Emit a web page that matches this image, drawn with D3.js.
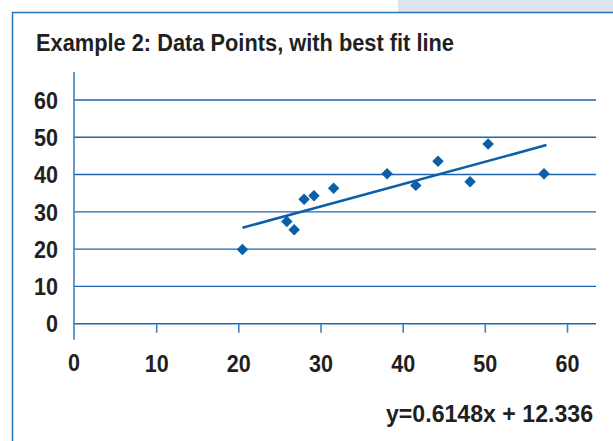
<!DOCTYPE html>
<html>
<head>
<meta charset="utf-8">
<script src="https://cdn.jsdelivr.net/npm/d3@7/dist/d3.min.js"></script>
<style>
  html, body { margin: 0; padding: 0; background: #fff; }
  svg { display: block; }
  text { font-family: "Liberation Sans", Arial, sans-serif; font-weight: bold; fill: #231f20; }
</style>
</head>
<body>
<script>
// ---- data ----
const title = "Example 2: Data Points, with best fit line";
const equation = "y=0.6148x + 12.336";
const pointsX = [20.5, 25.9, 26.8, 28.0, 29.2, 31.6, 38.1, 41.6, 44.3, 48.2, 50.4, 57.2];
const pointsY = [19.9, 27.4, 25.2, 33.4, 34.3, 36.3, 40.2, 37.1, 43.6, 38.1, 48.2, 40.2];
const fitX = [20.5, 57.5];
const fitY = [25.75, 47.9];
const xTicks = [0, 10, 20, 30, 40, 50, 60];
const yTicks = [0, 10, 20, 30, 40, 50, 60];

// ---- layout ----
const W = 613, H = 441;
const svg = d3.select("body").append("svg").attr("width", W).attr("height", H);

const blue = "#0b5fa9";
const gridBlue = "#1c66b0";
const axisBlue = "#3a83c5";
const labelSize = 23;

// decorative frame
svg.append("rect").attr("x", 398).attr("y", 0).attr("width", W - 398).attr("height", 12)
  .attr("fill", "#dce4f2");
svg.append("path").attr("d", `M12.5,${H} L12.5,12.5 L${W},12.5`)
  .attr("fill", "none").attr("stroke", "#2a72b8").attr("stroke-width", 1.5);

// title
svg.append("text").attr("x", 36).attr("y", 51)
  .attr("font-size", 23)
  .attr("textLength", 418).attr("lengthAdjust", "spacingAndGlyphs")
  .text(title);

const x = d3.scaleLinear().domain([0, 60]).range([74, 567]);
const y = d3.scaleLinear().domain([0, 60]).range([323.7, 100]);
const xEnd = 596;

// gridlines
const grid = svg.append("g");
grid.selectAll("line").data(yTicks).join("line")
  .attr("x1", x(0)).attr("x2", xEnd)
  .attr("y1", d => y(d)).attr("y2", d => y(d))
  .attr("stroke", gridBlue).attr("stroke-width", 1.4);

// y axis line
svg.append("line")
  .attr("x1", x(0)).attr("x2", x(0))
  .attr("y1", y(60) - 28).attr("y2", y(0) + 16)
  .attr("stroke", axisBlue).attr("stroke-width", 1.6);

// y labels
const yAxis = d3.axisLeft(y).tickValues(yTicks).tickSize(0).tickPadding(16);
const gy = svg.append("g").attr("transform", `translate(${x(0)},0)`).call(yAxis);
gy.select(".domain").remove();
gy.selectAll("text").attr("font-size", labelSize).attr("font-family", null)
  .attr("fill", "#231f20").attr("dy", "0.36em")
  .attr("textLength", d => String(d).length * 12).attr("lengthAdjust", "spacingAndGlyphs");

// x axis ticks and labels
const xAxis = d3.axisBottom(x).tickValues(xTicks.slice(1)).tickSize(9).tickPadding(23);
const gx = svg.append("g").attr("transform", `translate(0,${y(0)})`).call(xAxis);
gx.select(".domain").remove();
gx.selectAll("line").attr("stroke", axisBlue).attr("stroke-width", 1.6);
gx.selectAll("text").attr("font-size", labelSize).attr("font-family", null).attr("fill", "#231f20")
  .attr("textLength", d => String(d).length * 12).attr("lengthAdjust", "spacingAndGlyphs");
// zero label (tick at axis line)
svg.append("text").attr("x", x(0)).attr("y", y(0) + 47)
  .attr("text-anchor", "middle").attr("font-size", labelSize)
  .attr("textLength", 12).attr("lengthAdjust", "spacingAndGlyphs")
  .text(xTicks[0]);

// best fit line
const fitData = fitX.map((d, i) => [d, fitY[i]]);
svg.append("path").datum(fitData)
  .attr("d", d3.line().x(d => x(d[0])).y(d => y(d[1])))
  .attr("fill", "none").attr("stroke", blue).attr("stroke-width", 2.6);

// points (diamonds)
const pts = pointsX.map((d, i) => [d, pointsY[i]]);
svg.append("g").selectAll("path").data(pts).join("path")
  .attr("d", d3.symbol().type(d3.symbolSquare).size(66))
  .attr("transform", d => `translate(${x(d[0])},${y(d[1])}) rotate(45)`)
  .attr("fill", blue);

// equation
svg.append("text").attr("x", 593).attr("y", 422)
  .attr("text-anchor", "end").attr("font-size", 24)
  .attr("textLength", 207).attr("lengthAdjust", "spacingAndGlyphs")
  .text(equation);
</script>
</body>
</html>
